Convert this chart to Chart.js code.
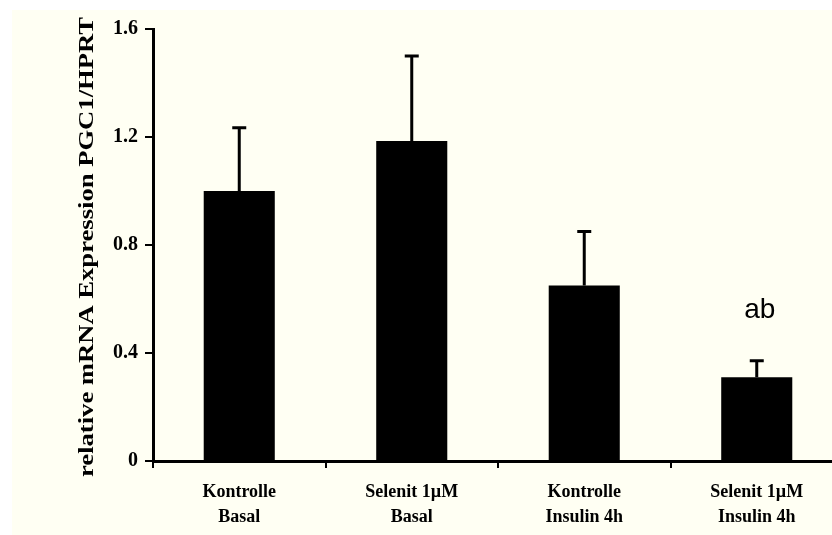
<!DOCTYPE html>
<html>
<head>
<meta charset="utf-8">
<script src="https://cdn.jsdelivr.net/npm/chart.js@4"></script>
<style>
  html, body { margin: 0; padding: 0; background: #fff; overflow: hidden; }
  #wrap { position: absolute; left: 12px; top: 10px; width: 840px; height: 525px; background: #fffff3; }
</style>
</head>
<body>
<div id="wrap"><canvas id="pgcChart" width="840" height="525"></canvas></div>
<script>
/* values */
const categories = [
  ["Kontrolle", "Basal"],
  ["Selenit 1µM", "Basal"],
  ["Kontrolle", "Insulin 4h"],
  ["Selenit 1µM", "Insulin 4h"]
];
const means = [1.0, 1.185, 0.65, 0.31];
const sem = [0.234, 0.315, 0.2, 0.061];
const marks = ["", "", "", "ab"];
const yTicks = [0, 0.4, 0.8, 1.2, 1.6];
const yTickLabels = ["0", "0.4", "0.8", "1.2", "1.6"];
const yTitle = "relative mRNA Expression PGC1/HPRT";

const serifBold = (size) => ({ family: "'Liberation Serif', 'Times New Roman', serif", size: size, weight: "bold" });

/* upward error bars + significance letters */
const errorBars = {
  id: "errorBars",
  afterDatasetsDraw(chart) {
    const ctx = chart.ctx;
    const y = chart.scales.y;
    const bars = chart.getDatasetMeta(0).data;
    ctx.save();
    ctx.strokeStyle = "#000";
    ctx.lineWidth = 3;
    bars.forEach((bar, i) => {
      const top = y.getPixelForValue(means[i] + sem[i]);
      ctx.beginPath();
      ctx.moveTo(bar.x, bar.y);
      ctx.lineTo(bar.x, top);
      ctx.moveTo(bar.x - 7, top);
      ctx.lineTo(bar.x + 7, top);
      ctx.stroke();
      if (marks[i]) {
        ctx.fillStyle = "#000";
        ctx.font = "28px 'Liberation Sans', Arial, sans-serif";
        ctx.textAlign = "center";
        ctx.textBaseline = "middle";
        ctx.fillText(marks[i], bar.x + 3, top - 51);
      }
    });
    ctx.restore();
  }
};

/* rotated, slightly stretched axis title like the original */
const axisTitle = {
  id: "axisTitle",
  afterDraw(chart) {
    const ctx = chart.ctx;
    ctx.save();
    ctx.font = "bold 22px 'Liberation Serif', 'Times New Roman', serif";
    ctx.fillStyle = "#000";
    ctx.textAlign = "center";
    ctx.textBaseline = "alphabetic";
    const w = ctx.measureText(yTitle).width;
    ctx.translate(81, 237);
    ctx.rotate(-Math.PI / 2);
    ctx.scale(460 / w, 1);
    ctx.fillText(yTitle, 0, 0);
    ctx.restore();
  }
};

new Chart(document.getElementById("pgcChart"), {
  type: "bar",
  data: {
    labels: categories,
    datasets: [{
      data: means,
      backgroundColor: "#000",
      borderWidth: 0,
      categoryPercentage: 1,
      barPercentage: 0.412
    }]
  },
  options: {
    responsive: false,
    animation: false,
    layout: { padding: { left: 0, top: 19, right: 9, bottom: 0 } },
    plugins: {
      legend: { display: false },
      tooltip: { enabled: false }
    },
    scales: {
      x: {
        offset: true,
        border: { display: true, color: "#000", width: 3 },
        grid: { offset: true, drawOnChartArea: false, drawTicks: true, tickLength: 7, color: "#000", lineWidth: 2 },
        ticks: { color: "#000", font: { ...serifBold(18), lineHeight: 1.39 }, padding: 12, maxRotation: 0 },
        afterFit(scale) { scale.height = 74; }
      },
      y: {
        min: 0,
        max: 1.6,
        border: { display: true, color: "#000", width: 3 },
        grid: { drawOnChartArea: false, drawTicks: true, tickLength: 8, color: "#000", lineWidth: 2 },
        afterBuildTicks(scale) { scale.ticks = yTicks.map(v => ({ value: v })); },
        ticks: {
          color: "#000",
          font: serifBold(20),
          padding: 7,
          callback: (v) => yTickLabels[yTicks.indexOf(v)]
        },
        afterFit(scale) { scale.width = 141; }
      }
    }
  },
  plugins: [errorBars, axisTitle]
});
</script>
</body>
</html>
